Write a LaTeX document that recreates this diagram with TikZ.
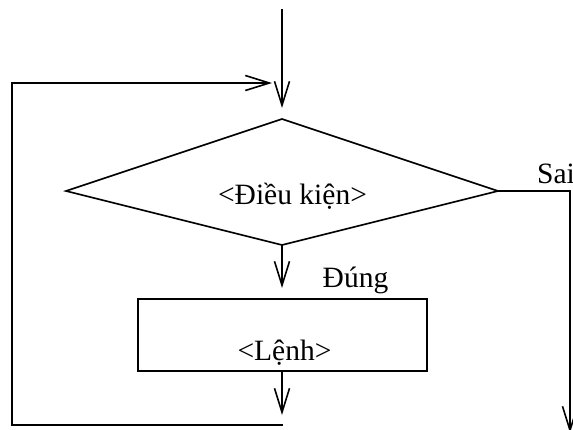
\documentclass[tikz,border=0pt]{standalone}
\usepackage{fontspec}
\setmainfont{Liberation Serif}
\usetikzlibrary{arrows.meta}
\begin{document}
\begin{tikzpicture}[x=1pt,y=-1pt,
  ln/.style={line width=1.6pt, line join=miter},
  arr/.style={ln, -{Straight Barb[length=24pt,width=15pt,line width=1.6pt]}},
  lbl/.style={font=\fontsize{29.5}{34}\selectfont, inner sep=0pt},
  box/.style={draw, line width=1.6pt, minimum width=289pt, minimum height=72pt, inner sep=0pt}]
\useasboundingbox (0,0) rectangle (573,429);
% coordinates
\coordinate (start) at (282,9);
\coordinate (topin) at (282,108);
\coordinate (dtop) at (282,119);
\coordinate (dleft) at (66,191);
\coordinate (dright) at (498,191);
\coordinate (dbot) at (282,245);
\coordinate (boxin) at (282,288);
\coordinate (boxout) at (282,415);
\coordinate (loopbr) at (283,425);
\coordinate (loopbl) at (12,425);
\coordinate (looptl) at (12,83);
\coordinate (loopin) at (272,83);
\coordinate (saicorner) at (570,191);
\coordinate (saiend) at (570,433);
% shapes
\draw[ln] (dtop) -- (dright) -- (dbot) -- (dleft) -- cycle;
\node[box] (body) at (282.5,335) {};
% texts
\node[lbl, anchor=base] (cond) at (292.5,204) {<Điều kiện>};
\node[lbl, anchor=base] (stmt) at (284.5,360) {<Lệnh>};
\node[lbl, anchor=base] (yes) at (355.5,287) {Đúng};
\node[lbl, anchor=base west] (no) at (537,183) {Sai};
% connectors
\draw[arr] (start) -- (topin);
\draw[arr] (dbot) -- (boxin);
\draw[arr] (body.south -| boxout) -- (boxout);
\draw[arr] (loopbr) -- (loopbl) -- (looptl) -- (loopin);
\draw[arr] (dright) -- (saicorner) -- (saiend);
\end{tikzpicture}
\end{document}
